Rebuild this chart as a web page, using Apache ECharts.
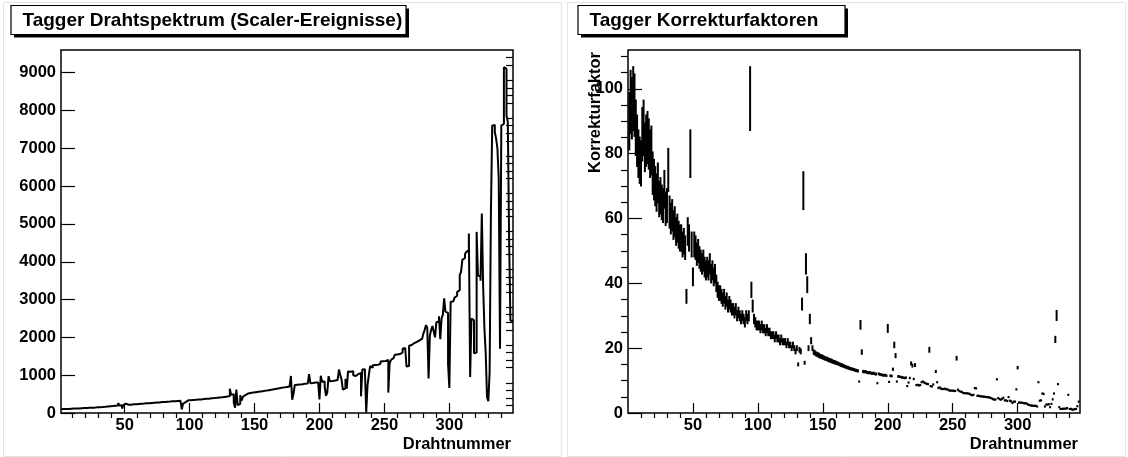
<!DOCTYPE html>
<html><head><meta charset="utf-8">
<script src="https://cdn.jsdelivr.net/npm/echarts@6/dist/echarts.min.js"></script>
<style>html,body{margin:0;padding:0;background:#fff}#c{width:1128px;height:457px}</style>
</head><body><div id="c"></div>
<script>
// ---------- data ----------
const leftTitle = 'Tagger Drahtspektrum (Scaler-Ereignisse)';
const rightTitle = 'Tagger Korrekturfaktoren';
const xTitle = 'Drahtnummer';
const rightYTitle = 'Korrekturfaktor';

const firstWire = 1;
// scaler counts per wire (wire 1 .. 348)
const counts = [
 100,104,102,106,103,108,112,114,113,118,
 116,120,122,121,125,127,126,130,132,131,
 134,137,136,140,143,142,146,150,148,152,
 128,157,160,163,166,170,172,176,180,182,
 186,190,188,196,262,200,204,118,210,246,
 214,218,222,220,226,230,228,234,236,240,
 242,246,244,250,252,256,254,260,262,266,
 268,272,270,276,280,278,284,288,286,292,
 294,298,296,302,305,308,306,312,314,318,
 316,322,320,98,250,290,330,334,332,338,
 342,346,350,348,355,358,362,360,366,370,
 372,376,380,378,385,390,388,395,398,402,
 405,410,408,415,420,425,430,435,440,450,
 640,480,500,283,139,620,207,240,470,327,
 426,475,505,515,520,528,532,540,545,550,
 555,560,566,570,575,580,588,592,598,604,
 610,616,622,628,634,640,646,652,660,666,
 672,678,684,690,696,702,708,980,350,505,
 740,748,745,756,762,758,770,776,772,782,
 790,1030,786,795,800,806,812,808,820,360,
 985,825,832,700,452,537,975,840,848,855,
 860,868,875,870,1150,1010,880,620,650,900,
 640,1100,1090,1120,1105,1000,980,1010,1030,1050,
 1060,440,1150,1160,1080,15,740,1000,1240,1200,
 1260,1270,1280,1275,1290,1300,1360,1370,1380,1375,
 1390,1400,540,1310,1400,1450,1460,1540,1550,1545,
 1560,1580,1600,1700,1720,1690,1230,1240,1780,1800,
 1820,1850,1860,1880,1900,1920,1940,1960,2000,2100,
 2200,2324,2250,916,2050,2200,2300,2150,2000,2400,
 2420,2560,1950,2500,2600,3030,2680,2650,1300,660,
 2940,2950,2980,3050,3100,3200,3250,3650,3730,4050,
 4100,4200,4260,4300,4746,950,2500,2450,1580,1600,
 4790,3645,3600,3500,5275,3380,2236,1576,418,315,
 1070,5318,7600,7620,7430,7255,7000,6199,1700,7600,
 7650,9147,9100,7870,7700,4614,2450,2420
];
// correction factor per wire (wire 1 .. 347), null = off scale
const factors = [
 90,96,94,97,95,88,84,80,78,77,
 86,88,82,84,85,83,80,81,74,72,
 70,68,71,66,67,65,64,69,63,64,
 75,62,60,61,58,59,56,57,55,54,
 54,52,53,51,36,56,54,80,52,42,
 52,51,49,50,48,47,46,47,45,44,
 45,44,46,43,44,42,43,40,38,37,
 37,36,35,36,34,35,33,34,33,32,
 32,31,32,30,31,30,29,30,29,28,
 30,29,30,97,38,33,29,28,27,27,
 27,26,27,26,26,25,26,25,25,24,
 24,24,23,24,23,23,22,23,22,22,
 22,21,22,21,21,20,21,20,19,20,
 15,19.5,19,33.6,68.6,15.5,46,39.6,20,29,
 22.3,20,18.8,18.5,18.2,18,17.8,17.5,17.4,17.2,
 17,16.8,16.7,16.5,16.3,16.2,16,15.8,15.7,15.5,
 15.4,15.2,15,14.8,14.7,14.5,14.3,14.2,14,13.9,
 13.7,13.6,13.5,13.4,13.2,13.1,13,9.7,27.2,18.8,
 12.8,12.7,12.8,12.5,12.4,12.5,12.3,12.2,12.3,12.1,
 12,9.2,12.1,11.9,11.8,11.7,11.6,11.7,11.5,26.1,
 9.6,11.5,11.4,13.5,21,17.7,9.7,11.3,11.2,11.1,
 11,10.9,10.8,10.9,8.3,9.4,10.8,15.3,14.6,10.5,
 14.8,8.6,8.7,8.5,8.6,9.5,9.7,9.4,9.2,9,
 8.9,19.5,8.3,8.2,8.8,null,12.8,9.5,7.7,7.9,
 7.5,7.4,7.4,7.5,7.3,7.3,7,6.9,6.9,6.9,
 6.8,6.8,16.9,7.2,6.8,6.6,6.5,6.2,6.1,6.1,
 6.1,6,5.9,5.6,5.5,5.6,7.7,7.6,5.3,5.3,
 5.2,5.1,5.1,5,5,4.9,4.9,4.8,4.7,4.5,
 4.3,4.1,4.2,10.4,4.6,4.3,4.1,4.4,4.7,3.9,
 3.9,3.7,4.9,3.8,3.6,3.1,3.5,3.5,7.3,14,
 3.2,3.2,3.2,3.1,3,3,2.9,2.6,2.5,2.3,
 2.3,2.2,2.2,2.2,2,9.5,3.8,3.9,6,5.9,
 2,2.6,2.6,2.7,1.8,2.8,4.2,6,22.7,30.1,
 8.9,1.8,1.25,1.25,1.3,1.3,1.35,1.5,5.6,1.25,
 1.25,1.05,1.05,1.2,1.25,2.1,3.5
];
const factorErrors = [
 9,9.9,9.6,10,9.8,8.7,8.1,7.5,7.3,7.1,
 8.4,8.7,7.7,8.1,8.2,7.9,7.5,7.7,6.7,6.4,
 6.2,5.9,6.3,5.6,5.8,5.5,5.4,6.0,5.3,5.4,
 6.8,5.1,4.9,5.0,4.6,4.8,4.4,4.5,4.3,4.2,
 4.2,4.0,4.1,3.8,2.3,4.4,4.2,7.5,4.0,2.9,
 4.0,3.8,3.6,3.7,3.5,3.4,3.3,3.4,3.2,3.1,
 3.2,3.1,3.3,3.0,3.1,2.9,3.0,2.7,2.5,2.4,
 2.4,2.3,2.2,2.3,2.1,2.2,2.0,2.1,2.0,1.9,
 1.9,1.8,1.9,1.7,1.8,1.7,1.6,1.7,1.6,1.6,
 1.7,1.6,1.7,10,2.5,2.0,1.6,1.6,1.5,1.5,
 1.5,1.4,1.5,1.4,1.4,1.3,1.4,1.3,1.3,1.2,
 1.2,1.2,1.2,1.2,1.2,1.2,1.1,1.2,1.1,1.1,
 1.1,1.0,1.1,1.0,1.0,0.9,1.0,0.9,0.9,0.9,
 0.6,0.9,0.9,2.0,6.0,0.6,3.3,2.6,0.9,1.6,
 1.1,0.9,0.85,0.8,0.8,0.8,0.8,0.75,0.75,0.75,
 0.7,0.7,0.7,0.7,0.7,0.7,0.7,0.65,0.65,0.65,
 0.6,0.6,0.6,0.6,0.6,0.6,0.55,0.55,0.55,0.55,
 0.5,0.5,0.5,0.5,0.5,0.5,0.5,0.3,1.5,0.85,
 0.48,0.48,0.48,0.46,0.46,0.46,0.45,0.45,0.45,0.44,
 0.44,0.3,0.44,0.43,0.42,0.42,0.42,0.42,0.41,1.4,
 0.31,0.41,0.4,0.5,1.0,0.78,0.31,0.4,0.39,0.39,
 0.38,0.38,0.37,0.38,0.25,0.3,0.37,0.63,0.58,0.36,
 0.6,0.27,0.27,0.26,0.27,0.3,0.31,0.3,0.29,0.28,
 0.28,0.9,0.25,0.25,0.27,null,0.48,0.3,0.22,0.23,
 0.22,0.21,0.21,0.22,0.21,0.21,0.2,0.19,0.19,0.19,
 0.19,0.19,0.73,0.2,0.19,0.18,0.17,0.16,0.16,0.16,
 0.16,0.15,0.15,0.14,0.14,0.14,0.22,0.22,0.13,0.13,
 0.12,0.12,0.12,0.12,0.12,0.11,0.11,0.11,0.11,0.1,
 0.09,0.09,0.09,0.35,0.1,0.09,0.09,0.1,0.11,0.08,
 0.08,0.07,0.11,0.08,0.07,0.06,0.07,0.07,0.21,0.55,
 0.06,0.06,0.06,0.06,0.05,0.05,0.05,0.04,0.04,0.04,
 0.04,0.03,0.03,0.03,0.03,0.31,0.08,0.08,0.15,0.15,
 0.03,0.04,0.04,0.05,0.03,0.05,0.09,0.15,1.1,1.7,
 0.28,0.03,0.02,0.02,0.02,0.02,0.02,0.02,0.14,0.02,
 0.02,0.01,0.01,0.02,0.02,0.03,0.07
];
const xTickLabels = [50,100,150,200,250,300];
const leftYTickLabels = [0,1000,2000,3000,4000,5000,6000,7000,8000,9000];
const rightYTickLabels = [0,20,40,60,80,100];

// ---------- build ----------
const FONT = 'Liberation Sans, Arial, Helvetica, sans-serif';
const histData = counts.map((c, i) => [firstWire + i, c]);
histData.push([firstWire + counts.length, counts[counts.length - 1]]);
const factorData = [];
factors.forEach((k, i) => { if (k !== null) factorData.push([firstWire + i, k, factorErrors[i]]); });

function minorList(step, maxV, majorStep) {
  const out = [];
  for (let v = step; v <= maxV + 1e-9; v += step) {
    const r = Math.round(v * 1000) / 1000;
    if (Math.abs(r / majorStep - Math.round(r / majorStep)) > 1e-6) out.push(r);
  }
  return out;
}
const xMinor = minorList(10, 340, 50);
const leftYMinor = minorList(200, 9400, 1000);
const rightYMinor = minorList(5, 110, 20);

const labelStyle = { color: '#000', fontFamily: FONT, fontWeight: 'bold', fontSize: 16.5, formatter: v => String(v) };
function majorX(grid, min, max) {
  return { type: 'value', gridIndex: grid, min: min, max: max,
    axisLine: { show: false }, splitLine: { show: false },
    axisTick: { show: true, inside: true, length: 10, customValues: xTickLabels, lineStyle: { color: '#000', width: 1.2 } },
    axisLabel: Object.assign({ show: true, margin: 4, customValues: xTickLabels }, labelStyle) };
}
function minorX(grid, min, max) {
  return { type: 'value', gridIndex: grid, min: min, max: max,
    axisLine: { show: false }, splitLine: { show: false },
    axisTick: { show: true, inside: true, length: 5, customValues: xMinor, lineStyle: { color: '#000', width: 1.2 } },
    axisLabel: { show: false } };
}
function majorY(grid, max, ticks) {
  return { type: 'value', gridIndex: grid, min: 0, max: max,
    axisLine: { show: false }, splitLine: { show: false },
    axisTick: { show: true, inside: true, length: 14, customValues: ticks, lineStyle: { color: '#000', width: 1.2 } },
    axisLabel: Object.assign({ show: true, margin: 5, customValues: ticks }, labelStyle) };
}
function minorY(grid, max, ticks) {
  return { type: 'value', gridIndex: grid, min: 0, max: max,
    axisLine: { show: false }, splitLine: { show: false },
    axisTick: { show: true, inside: true, length: 7, customValues: ticks, lineStyle: { color: '#000', width: 1.2 } },
    axisLabel: { show: false } };
}
function titleBox(x, y, w, h, text) {
  return [
    { type: 'rect', shape: { x: x + 3, y: y + 3, width: w, height: h }, style: { fill: '#000' }, z: 10 },
    { type: 'rect', shape: { x: x, y: y, width: w, height: h }, style: { fill: '#fff', stroke: '#000', lineWidth: 1.2 }, z: 11 },
    { type: 'text', x: x + 11.5, y: y + h / 2 + 1, z: 12,
      style: { text: text, fill: '#000', font: 'bold 19px ' + FONT, textVerticalAlign: 'middle', textAlign: 'left' } }
  ];
}

const chart = echarts.init(document.getElementById('c'), null, { renderer: 'canvas' });
chart.setOption({
  animation: false,
  backgroundColor: '#fff',
  grid: [
    { left: 61, top: 50, width: 452, height: 363, show: true, borderColor: '#000', borderWidth: 1.5, backgroundColor: '#fff' },
    { left: 628, top: 50, width: 452, height: 363, show: true, borderColor: '#000', borderWidth: 1.5, backgroundColor: '#fff' }
  ],
  xAxis: [ majorX(0, 1, 349), minorX(0, 1, 349), majorX(1, 0, 348), minorX(1, 0, 348) ],
  yAxis: [ majorY(0, 9600, leftYTickLabels), minorY(0, 9600, leftYMinor),
           majorY(1, 112, rightYTickLabels), minorY(1, 112, rightYMinor) ],
  series: [
    { type: 'line', xAxisIndex: 0, yAxisIndex: 0, data: histData, step: 'end',
      showSymbol: false, symbol: 'none', lineStyle: { color: '#000', width: 2 }, silent: true },
    { type: 'custom', xAxisIndex: 2, yAxisIndex: 2, data: factorData, silent: true,
      renderItem: function (params, api) {
        const x = api.value(0), k = api.value(1), e = api.value(2);
        const t = api.coord([x, k + e]);
        const b = api.coord([x, k - e]);
        let y0 = t[1], y1 = b[1];
        if (y1 - y0 < 2.2) { const m = (y0 + y1) / 2; y0 = m - 1.1; y1 = m + 1.1; }
        return { type: 'rect', shape: { x: t[0] - 1, y: y0, width: 2, height: y1 - y0 }, style: { fill: '#000' } };
      } }
  ],
  graphic: [
    { type: 'rect', shape: { x: 3.5, y: 2.5, width: 558, height: 454 }, style: { fill: null, stroke: '#e4e4e4', lineWidth: 1 }, z: 1 },
    { type: 'rect', shape: { x: 567.5, y: 2.5, width: 558, height: 454 }, style: { fill: null, stroke: '#e4e4e4', lineWidth: 1 }, z: 1 },
    ...titleBox(11, 5.5, 395, 29, leftTitle),
    ...titleBox(578, 5.5, 267, 29, rightTitle),
    { type: 'text', x: 511, y: 444, z: 12,
      style: { text: xTitle, fill: '#000', font: 'bold 16.5px ' + FONT, textAlign: 'right', textVerticalAlign: 'middle' } },
    { type: 'text', x: 1078, y: 444, z: 12,
      style: { text: xTitle, fill: '#000', font: 'bold 16.5px ' + FONT, textAlign: 'right', textVerticalAlign: 'middle' } },
    { type: 'text', x: 595, y: 52, rotation: Math.PI / 2, z: 12,
      style: { text: rightYTitle, fill: '#000', font: 'bold 16.5px ' + FONT, textAlign: 'right', textVerticalAlign: 'middle' } }
  ]
});
</script>
</body></html>
